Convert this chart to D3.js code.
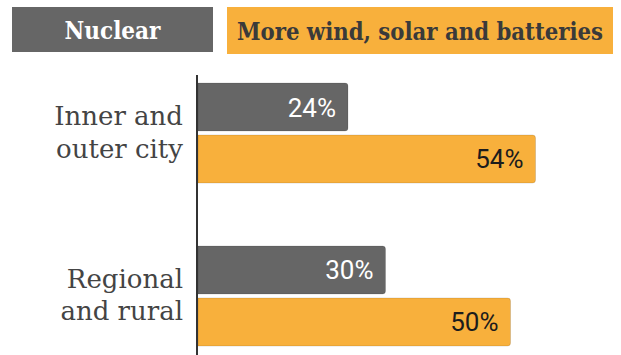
<!DOCTYPE html>
<html>
<head>
<meta charset="utf-8">
<script src="https://cdn.jsdelivr.net/npm/d3@7/dist/d3.min.js"></script>
<style>
  html, body { margin: 0; padding: 0; background: #fff; }
  svg { display: block; }
</style>
</head>
<body>
<svg id="chart" width="621" height="355"></svg>
<script>
// Preferred option by where people live
const regions = ["Inner and outer city", "Regional and rural"];
const regionLines = [["Inner and", "outer city"], ["Regional", "and rural"]];
const seriesNames = ["Nuclear", "More wind, solar and batteries"];
const nuclear = [24, 30];
const renewables = [54, 50];

const colors = { "Nuclear": "#666666", "More wind, solar and batteries": "#f8b03c" };
const labelColors = { "Nuclear": "#ffffff", "More wind, solar and batteries": "#1c1c1c" };

const rows = regions.map((r, i) => ({
  region: r,
  lines: regionLines[i],
  values: [
    { series: seriesNames[0], value: nuclear[i] },
    { series: seriesNames[1], value: renewables[i] }
  ]
}));

const svg = d3.select("#chart");
const axisX = 197;

const x = d3.scaleLinear().domain([0, 60]).range([axisX + 1, axisX + 1 + 375]);
const y = d3.scaleBand().domain(regions).range([83, 346]).paddingInner(0.3865).paddingOuter(0);
const ySub = d3.scaleBand().domain(seriesNames).range([0, y.bandwidth()]).paddingInner(0.0769).paddingOuter(0);

// Legend
const legend = [
  { name: seriesNames[0], x0: 12, x1: 213, y0: 7, y1: 52, text: "#ffffff", fit: 94 },
  { name: seriesNames[1], x0: 227, x1: 613, y0: 7, y1: 54, text: "#3a3a3a", fit: 366 }
];
const lg = svg.append("g").attr("class", "legend");
legend.forEach(d => {
  lg.append("rect")
    .attr("x", d.x0).attr("y", d.y0)
    .attr("width", d.x1 - d.x0).attr("height", d.y1 - d.y0)
    .attr("fill", colors[d.name]);
  const t = lg.append("text")
    .attr("x", (d.x0 + d.x1) / 2)
    .attr("y", (d.y0 + d.y1) / 2 + 9)
    .attr("text-anchor", "middle")
    .attr("font-family", "'DejaVu Serif Condensed', 'DejaVu Serif', serif")
    .attr("font-weight", "bold")
    .attr("font-size", 24)
    .attr("fill", d.text)
    .text(d.name);
  // condense long labels so they sit inside their box
  const w = t.node().getComputedTextLength();
  if (Math.abs(w - d.fit) > 2) {
    t.attr("textLength", d.fit).attr("lengthAdjust", "spacingAndGlyphs");
  }
});

// Bars with rounded right ends
function barPath(x0, y0, w, h, r) {
  return `M${x0},${y0}H${x0 + w - r}Q${x0 + w},${y0} ${x0 + w},${y0 + r}` +
         `V${y0 + h - r}Q${x0 + w},${y0 + h} ${x0 + w - r},${y0 + h}H${x0}Z`;
}

const groups = svg.append("g").selectAll("g.row")
  .data(rows).join("g")
  .attr("class", "row")
  .attr("transform", d => `translate(0,${y(d.region)})`);

groups.selectAll("path.bar")
  .data(d => d.values).join("path")
  .attr("class", "bar")
  .attr("d", d => barPath(x(0), ySub(d.series), x(d.value) - x(0), ySub.bandwidth(), 3))
  .attr("fill", d => colors[d.series])
  .attr("stroke", "rgba(0,0,0,0.12)")
  .attr("stroke-width", 1);

groups.selectAll("text.val")
  .data(d => d.values).join("text")
  .attr("class", "val")
  .attr("x", d => x(d.value) - 12)
  .attr("y", d => ySub(d.series) + ySub.bandwidth() / 2 + 9.5)
  .attr("text-anchor", "end")
  .attr("font-family", "Roboto, sans-serif")
  .attr("font-weight", 400)
  .attr("font-size", 26)
  .attr("fill", d => labelColors[d.series])
  .text(d => d.value + "%");

// Category labels
groups.each(function (d) {
  const c = y.bandwidth() / 2;
  const t = d3.select(this).append("text")
    .attr("text-anchor", "end")
    .attr("font-family", "'DejaVu Serif', serif")
    .attr("font-size", 26)
    .attr("fill", "#444444");
  d.lines.forEach((line, i) => {
    t.append("tspan")
      .attr("x", axisX - 14)
      .attr("y", c - 8 + i * 32.5)
      .text(line);
  });
});

// Axis line
svg.append("line")
  .attr("x1", axisX).attr("x2", axisX)
  .attr("y1", 75).attr("y2", 355)
  .attr("stroke", "#333333")
  .attr("stroke-width", 2);
</script>
</body>
</html>
